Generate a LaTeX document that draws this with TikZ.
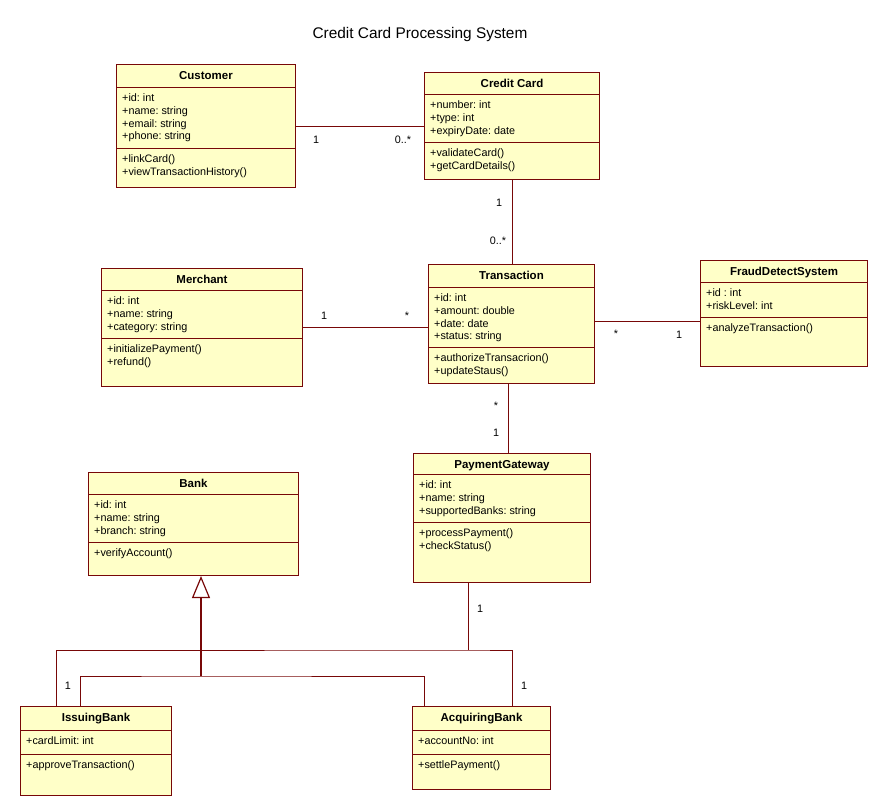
\documentclass[tikz,border=0pt]{standalone}
\usepackage{fontspec}
\setmainfont{Liberation Sans}
\usetikzlibrary{arrows.meta}
\frenchspacing

\begin{document}
\begin{tikzpicture}[x=1pt, y=-1pt]

  % Define Colors
  \definecolor{umlfill}{RGB}{255,255,200}
  \definecolor{umlline}{RGB}{120,8,8}

  % Node styles
  \tikzstyle{cbox}=[rectangle, draw=umlline, fill=umlfill, line width=1pt, inner sep=0pt, anchor=north west]
  \tikzstyle{cdiv}=[draw=umlline, line width=1pt]
  \tikzstyle{cname}=[anchor=base, inner sep=0pt, font=\fontsize{11.5}{12.9}\selectfont\bfseries]
  \tikzstyle{cmember}=[anchor=north west, align=left, inner sep=0pt, font=\fontsize{10.8}{12.9}\selectfont]
  \tikzstyle{mult}=[anchor=base, inner sep=0pt, font=\fontsize{10.8}{12.9}\selectfont]

  \tikzstyle{assoc_path}=[draw=umlline, line width=1pt]
  \tikzstyle{gen_path}=[draw=umlline, line width=2.4pt]

  \useasboundingbox (0,0) rectangle (888,800);

  % Title
  \node[anchor=base, inner sep=0pt, font=\fontsize{15.4}{18}\selectfont] (title) at (420,38.5) {Credit Card Processing System};

  % Classes
  % Customer
  \node[cbox, minimum width=179pt, minimum height=123pt] (customer) at (116,64) {};
  \draw[cdiv] (customer.west |- 0,87) -- (customer.east |- 0,87);
  \draw[cdiv] (customer.west |- 0,148) -- (customer.east |- 0,148);
  \node[cname] (customer_n) at (customer.north |- 0,79) {Customer};
  \node[cmember] (customer_a) at (122,92) {\strut+id: int\\+name: string\\+email: string\\+phone: string};
  \node[cmember] (customer_m) at (122,153) {\strut+linkCard()\\+viewTransactionHistory()};

  % Credit Card
  \node[cbox, minimum width=175pt, minimum height=107pt] (card) at (424,72) {};
  \draw[cdiv] (card.west |- 0,94) -- (card.east |- 0,94);
  \draw[cdiv] (card.west |- 0,142) -- (card.east |- 0,142);
  \node[cname] (card_n) at (card.north |- 0,87) {Credit Card};
  \node[cmember] (card_a) at (430,99) {\strut+number: int\\+type: int\\+expiryDate: date};
  \node[cmember] (card_m) at (430,147) {\strut+validateCard()\\+getCardDetails()};

  % Merchant
  \node[cbox, minimum width=201pt, minimum height=118pt] (merchant) at (101,268) {};
  \draw[cdiv] (merchant.west |- 0,290) -- (merchant.east |- 0,290);
  \draw[cdiv] (merchant.west |- 0,338) -- (merchant.east |- 0,338);
  \node[cname] (merchant_n) at (merchant.north |- 0,283) {Merchant};
  \node[cmember] (merchant_a) at (107,295) {\strut+id: int\\+name: string\\+category: string};
  \node[cmember] (merchant_m) at (107,343) {\strut+initializePayment()\\+refund()};

  % Transaction
  \node[cbox, minimum width=166pt, minimum height=119pt] (transaction) at (428,264) {};
  \draw[cdiv] (transaction.west |- 0,287) -- (transaction.east |- 0,287);
  \draw[cdiv] (transaction.west |- 0,347) -- (transaction.east |- 0,347);
  \node[cname] (transaction_n) at (transaction.north |- 0,279) {Transaction};
  \node[cmember] (transaction_a) at (434,292) {\strut+id: int\\+amount: double\\+date: date\\+status: string};
  \node[cmember] (transaction_m) at (434,352) {\strut+authorizeTransacrion()\\+updateStaus()};

  % FraudDetectSystem
  \node[cbox, minimum width=167pt, minimum height=106pt] (fraud) at (700,260) {};
  \draw[cdiv] (fraud.west |- 0,282) -- (fraud.east |- 0,282);
  \draw[cdiv] (fraud.west |- 0,317) -- (fraud.east |- 0,317);
  \node[cname] (fraud_n) at (fraud.north |- 0,275) {FraudDetectSystem};
  \node[cmember] (fraud_a) at (706,287) {\strut+id : int\\+riskLevel: int};
  \node[cmember] (fraud_m) at (706,322) {\strut+analyzeTransaction()};

  % PaymentGateway
  \node[cbox, minimum width=177pt, minimum height=129pt] (gateway) at (413,453) {};
  \draw[cdiv] (gateway.west |- 0,474) -- (gateway.east |- 0,474);
  \draw[cdiv] (gateway.west |- 0,522) -- (gateway.east |- 0,522);
  \node[cname] (gateway_n) at (gateway.north |- 0,468) {PaymentGateway};
  \node[cmember] (gateway_a) at (419,479) {\strut+id: int\\+name: string\\+supportedBanks: string};
  \node[cmember] (gateway_m) at (419,527) {\strut+processPayment()\\+checkStatus()};

  % Bank
  \node[cbox, minimum width=210pt, minimum height=103pt] (bank) at (88,472) {};
  \draw[cdiv] (bank.west |- 0,494) -- (bank.east |- 0,494);
  \draw[cdiv] (bank.west |- 0,542) -- (bank.east |- 0,542);
  \node[cname] (bank_n) at (bank.north |- 0,487) {Bank};
  \node[cmember] (bank_a) at (94,499) {\strut+id: int\\+name: string\\+branch: string};
  \node[cmember] (bank_m) at (94,547) {\strut+verifyAccount()};

  % IssuingBank
  \node[cbox, minimum width=151pt, minimum height=89pt] (issuing) at (20,706) {};
  \draw[cdiv] (issuing.west |- 0,730) -- (issuing.east |- 0,730);
  \draw[cdiv] (issuing.west |- 0,754) -- (issuing.east |- 0,754);
  \node[cname] (issuing_n) at (issuing.north |- 0,721) {IssuingBank};
  \node[cmember] (issuing_a) at (26,735) {\strut+cardLimit: int};
  \node[cmember] (issuing_m) at (26,759) {\strut+approveTransaction()};

  % AcquiringBank
  \node[cbox, minimum width=138pt, minimum height=83pt] (acquiring) at (412,706) {};
  \draw[cdiv] (acquiring.west |- 0,730) -- (acquiring.east |- 0,730);
  \draw[cdiv] (acquiring.west |- 0,754) -- (acquiring.east |- 0,754);
  \node[cname] (acquiring_n) at (acquiring.north |- 0,721) {AcquiringBank};
  \node[cmember] (acquiring_a) at (418,735) {\strut+accountNo: int};
  \node[cmember] (acquiring_m) at (418,759) {\strut+settlePayment()};

  % Associations
  \draw[assoc_path] (customer.east) -- (card.west);
  \draw[assoc_path] (card.south) -- (card.south |- transaction.north);
  \draw[assoc_path] (merchant.east) -- (merchant.east -| transaction.west);
  \draw[assoc_path] (transaction.east |- 0,321) -- (fraud.west |- 0,321);
  \draw[assoc_path] (508,0 |- transaction.south) -- (508,0 |- gateway.north);

  % Gateway to banks
  \coordinate (pay_join) at (468,650);
  \draw[assoc_path] (468,0 |- gateway.south) -- (pay_join);
  \draw[assoc_path] (56,0 |- issuing.north) |- (pay_join) -| (512,0 |- acquiring.north);

  % Generalization
  \coordinate (gen_join) at (201,676);
  \draw[assoc_path] (80,0 |- issuing.north) |- (gen_join) -| (424,0 |- acquiring.north);
  \draw[gen_path, -{Triangle[length=22pt, width=18pt, fill=white, line width=1.2pt]}] (gen_join) -- (201,0 |- bank.south);

  % Multiplicities
  \node[mult] (m_cust) at (316,143) {1};
  \node[mult] (m_card) at (403,143) {0..*};
  \node[mult] (m_card_t) at (499,206) {1};
  \node[mult] (m_trans_c) at (498,244) {0..*};
  \node[mult] (m_merch) at (324,319) {1};
  \node[mult] (m_trans_m) at (407,319) {*};
  \node[mult] (m_trans_f) at (616,337) {*};
  \node[mult] (m_fraud) at (679,338) {1};
  \node[mult] (m_trans_g) at (496,409) {*};
  \node[mult] (m_gate_t) at (496,436) {1};
  \node[mult] (m_gate_b) at (480,612) {1};
  \node[mult] (m_issuing) at (68,689) {1};
  \node[mult] (m_acquiring) at (524,689) {1};

\end{tikzpicture}
\end{document}
